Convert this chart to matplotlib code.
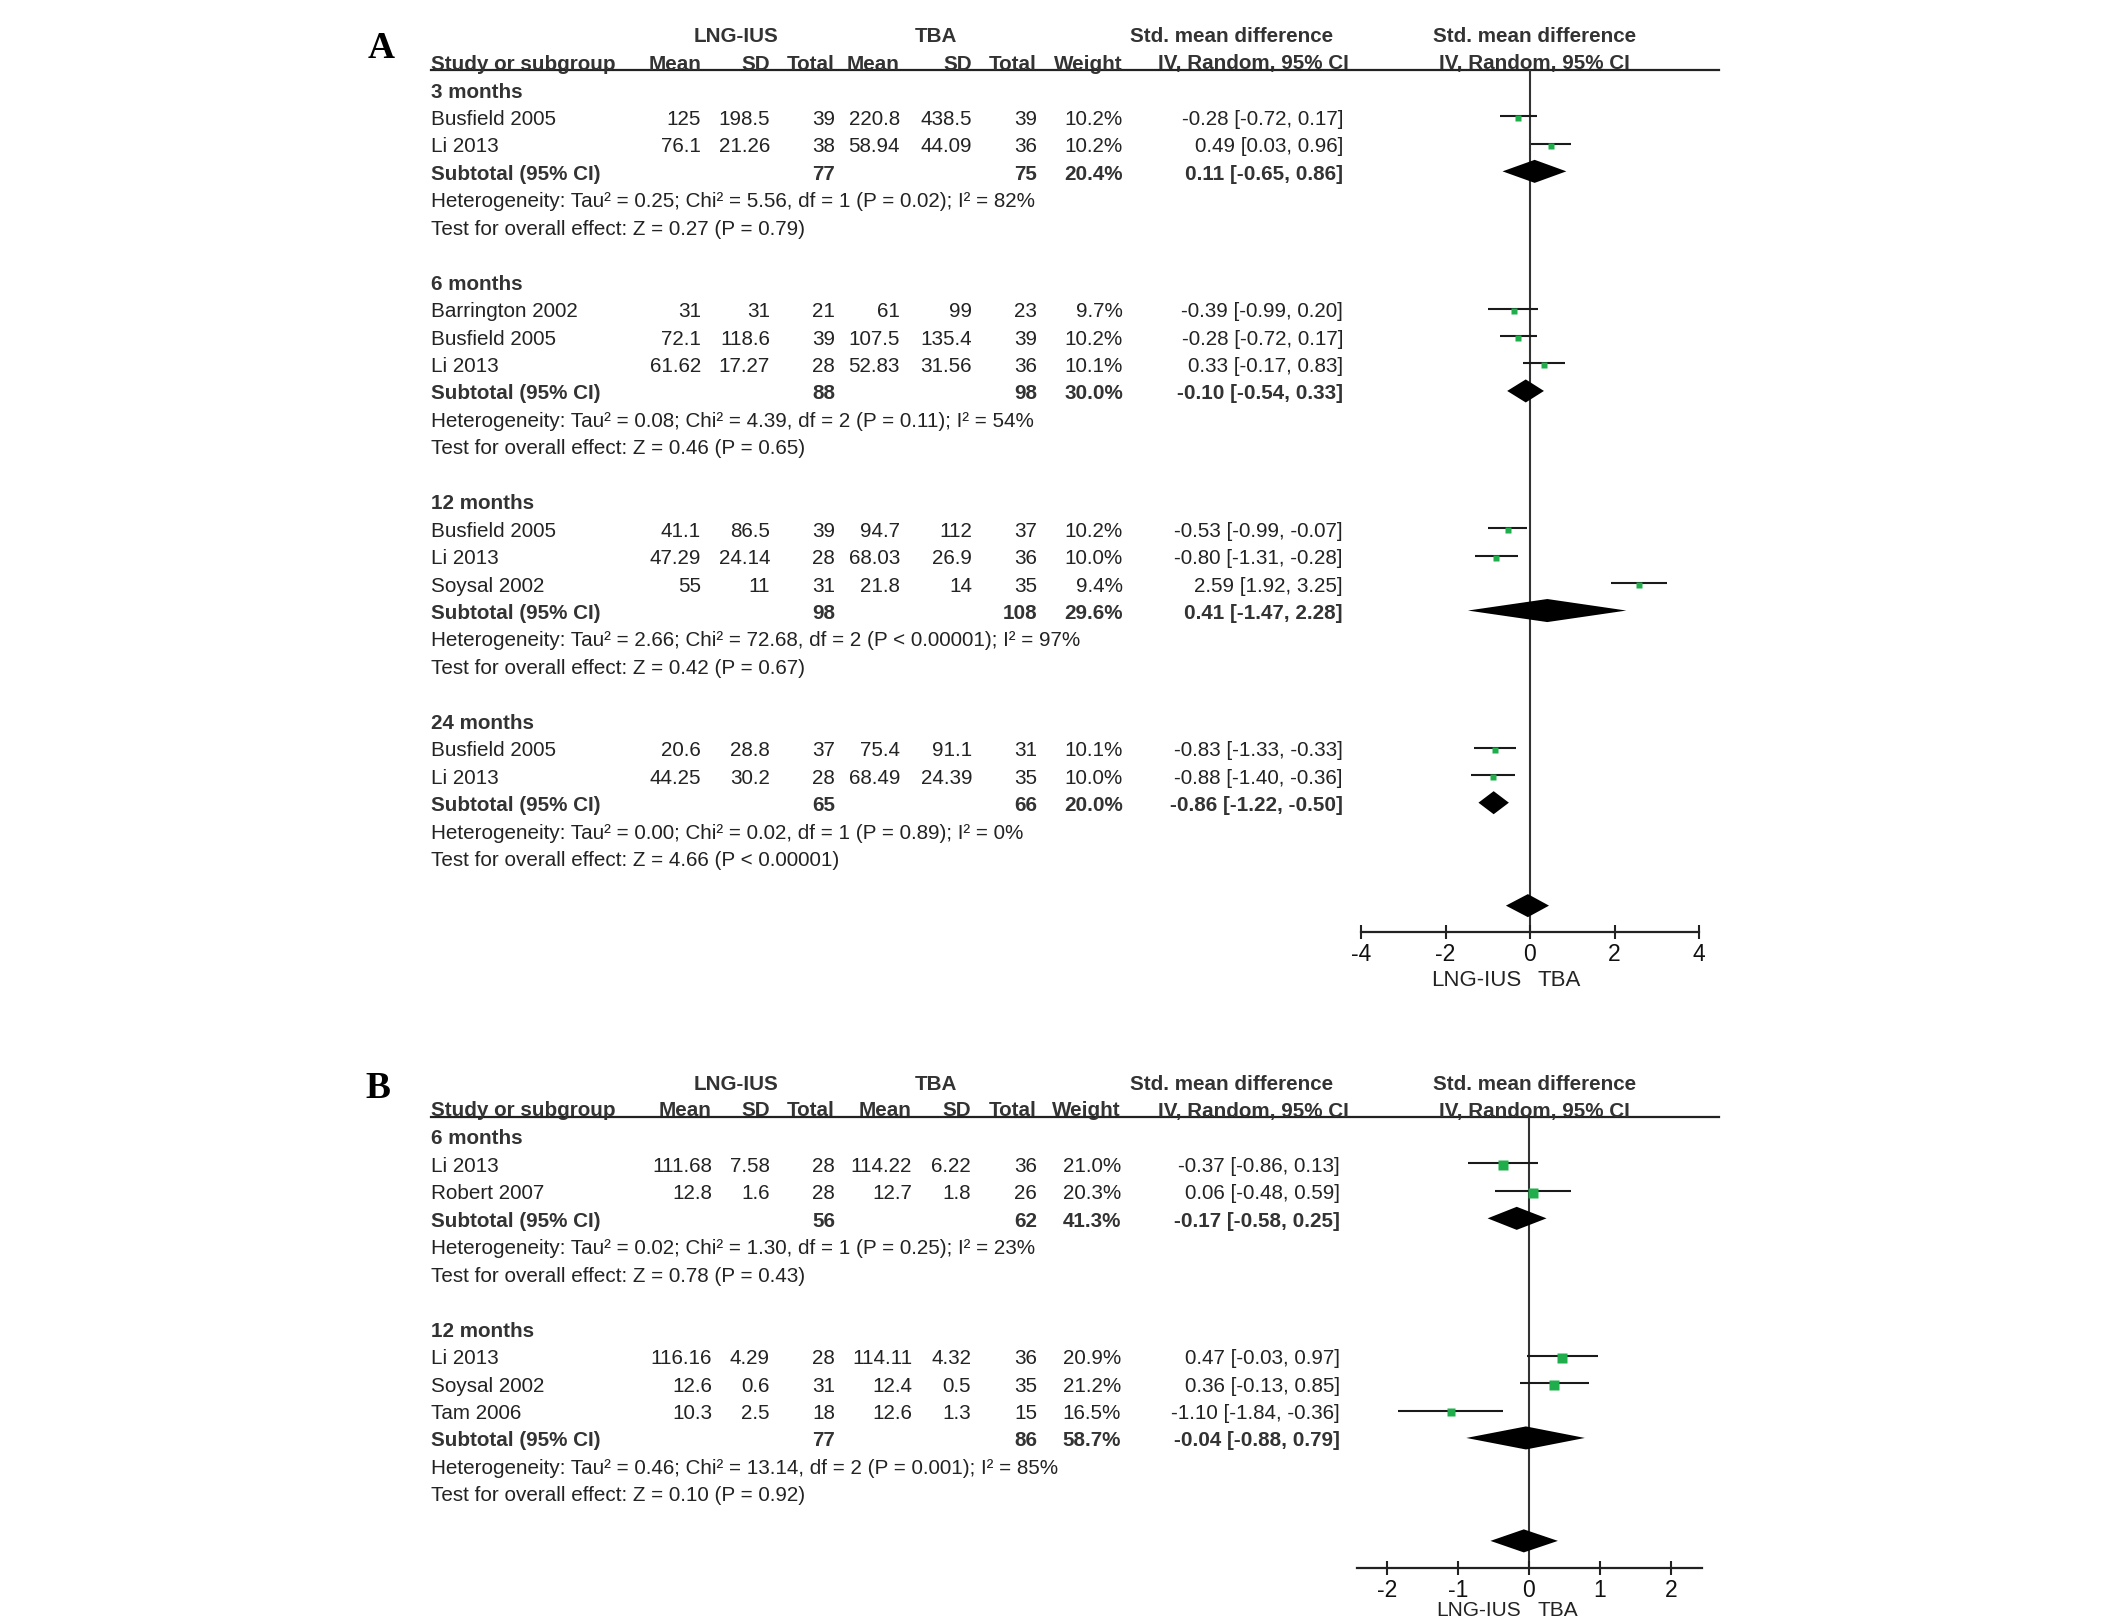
import matplotlib
matplotlib.use('Agg')
import matplotlib.pyplot as plt

plt.rcParams['font.family'] = ['Liberation Sans', 'DejaVu Sans']
plt.rcParams['axes.unicode_minus'] = False

W, H = 2126, 1621
TXT = '#232323'
BOLD = '#333333'
GREEN = '#1fae4b'
STEP = 27.45
FS = 14.9
DY = 3  # small downward nudge of table text

# ---- panel A ----
a_groups = ['3 months', '6 months', '12 months', '24 months']
a_sizes = [2, 3, 3, 2]
a_study = ['Busfield 2005', 'Li 2013',
           'Barrington 2002', 'Busfield 2005', 'Li 2013',
           'Busfield 2005', 'Li 2013', 'Soysal 2002',
           'Busfield 2005', 'Li 2013']
a_mean1 = [125, 76.1, 31, 72.1, 61.62, 41.1, 47.29, 55, 20.6, 44.25]
a_sd1 = [198.5, 21.26, 31, 118.6, 17.27, 86.5, 24.14, 11, 28.8, 30.2]
a_n1 = [39, 38, 21, 39, 28, 39, 28, 31, 37, 28]
a_mean2 = [220.8, 58.94, 61, 107.5, 52.83, 94.7, 68.03, 21.8, 75.4, 68.49]
a_sd2 = [438.5, 44.09, 99, 135.4, 31.56, 112, 26.9, 14, 91.1, 24.39]
a_n2 = [39, 36, 23, 39, 36, 37, 36, 35, 31, 35]
a_weight = [10.2, 10.2, 9.7, 10.2, 10.1, 10.2, 10.0, 9.4, 10.1, 10.0]
a_smd = [-0.28, 0.49, -0.39, -0.28, 0.33, -0.53, -0.80, 2.59, -0.83, -0.88]
a_lo = [-0.72, 0.03, -0.99, -0.72, -0.17, -0.99, -1.31, 1.92, -1.33, -1.40]
a_hi = [0.17, 0.96, 0.20, 0.17, 0.83, -0.07, -0.28, 3.25, -0.33, -0.36]
a_sub_n1 = [77, 88, 98, 65]
a_sub_n2 = [75, 98, 108, 66]
a_sub_w = [20.4, 30.0, 29.6, 20.0]
a_sub_smd = [0.11, -0.10, 0.41, -0.86]
a_sub_lo = [-0.65, -0.54, -1.47, -1.22]
a_sub_hi = [0.86, 0.33, 2.28, -0.50]
a_het = ['Heterogeneity: Tau² = 0.25; Chi² = 5.56, df = 1 (P = 0.02); I² = 82%',
         'Heterogeneity: Tau² = 0.08; Chi² = 4.39, df = 2 (P = 0.11); I² = 54%',
         'Heterogeneity: Tau² = 2.66; Chi² = 72.68, df = 2 (P < 0.00001); I² = 97%',
         'Heterogeneity: Tau² = 0.00; Chi² = 0.02, df = 1 (P = 0.89); I² = 0%']
a_test = ['Test for overall effect: Z = 0.27 (P = 0.79)',
          'Test for overall effect: Z = 0.46 (P = 0.65)',
          'Test for overall effect: Z = 0.42 (P = 0.67)',
          'Test for overall effect: Z = 4.66 (P < 0.00001)']
a_overall = [-0.05, -0.57, 0.45]
a_ticks = [-4, -2, 0, 2, 4]

# ---- panel B ----
b_groups = ['6 months', '12 months']
b_sizes = [2, 3]
b_study = ['Li 2013', 'Robert 2007', 'Li 2013', 'Soysal 2002', 'Tam 2006']
b_mean1 = [111.68, 12.8, 116.16, 12.6, 10.3]
b_sd1 = [7.58, 1.6, 4.29, 0.6, 2.5]
b_n1 = [28, 28, 28, 31, 18]
b_mean2 = [114.22, 12.7, 114.11, 12.4, 12.6]
b_sd2 = [6.22, 1.8, 4.32, 0.5, 1.3]
b_n2 = [36, 26, 36, 35, 15]
b_weight = [21.0, 20.3, 20.9, 21.2, 16.5]
b_smd = [-0.37, 0.06, 0.47, 0.36, -1.10]
b_lo = [-0.86, -0.48, -0.03, -0.13, -1.84]
b_hi = [0.13, 0.59, 0.97, 0.85, -0.36]
b_sub_n1 = [56, 77]
b_sub_n2 = [62, 86]
b_sub_w = [41.3, 58.7]
b_sub_smd = [-0.17, -0.04]
b_sub_lo = [-0.58, -0.88]
b_sub_hi = [0.25, 0.79]
b_het = ['Heterogeneity: Tau² = 0.02; Chi² = 1.30, df = 1 (P = 0.25); I² = 23%',
         'Heterogeneity: Tau² = 0.46; Chi² = 13.14, df = 2 (P = 0.001); I² = 85%']
b_test = ['Test for overall effect: Z = 0.78 (P = 0.43)',
          'Test for overall effect: Z = 0.10 (P = 0.92)']
b_overall = [-0.07, -0.54, 0.41]
b_ticks = [-2, -1, 0, 1, 2]

fig = plt.figure(figsize=(W / 100, H / 100), dpi=100)
bg = fig.add_axes([0, 0, 1, 1])
bg.set_xlim(0, W)
bg.set_ylim(H, 0)
bg.axis('off')


def t(x, y, s, ha='left', bold=False, size=FS):
    bg.text(x, y + DY, s, ha=ha, va='center', fontsize=size,
            fontweight='bold' if bold else 'normal',
            color=BOLD if bold else TXT)


def draw_panel(p):
    y0 = p['y0']
    c = p['cols']
    py = lambda r: y0 + r * STEP

    # letter + headers
    bg.text(p['letter_x'], p['letter_y'], p['letter'], ha='center', va='center',
            fontsize=27, fontweight='bold', family='Liberation Serif', color='black')
    t(736, y0 - 55, 'LNG-IUS', 'center', True)
    t(936, y0 - 55, 'TBA', 'center', True)
    t(1232, y0 - 55, 'Std. mean difference', 'center', True)
    t(1535, y0 - 55, 'Std. mean difference', 'center', True)
    t(431, y0 - 28, 'Study or subgroup', 'left', True)
    for x, s in zip(c[:7], ['Mean', 'SD', 'Total', 'Mean', 'SD', 'Total', 'Weight']):
        t(x, y0 - 28, s, 'right', True)
    t(1349, y0 - 28, 'IV, Random, 95% CI', 'right', True)
    t(1534, y0 - 28, 'IV, Random, 95% CI', 'center', True)
    bg.plot([431, 1719], [y0 - 19, y0 - 19], color='#222222', lw=1.6)

    # rows
    rows, sub_rows = [], []
    r = 0
    i = 0
    for g, k in enumerate(p['sizes']):
        t(431, py(r), p['groups'][g], bold=True)
        for j in range(k):
            rr = r + 1 + j
            rows.append(rr)
            t(431, py(rr), p['study'][i])
            vals = [f"{p['mean1'][i]:g}", f"{p['sd1'][i]:g}", str(p['n1'][i]),
                    f"{p['mean2'][i]:g}", f"{p['sd2'][i]:g}", str(p['n2'][i]),
                    f"{p['weight'][i]:.1f}%",
                    f"{p['smd'][i]:.2f} [{p['lo'][i]:.2f}, {p['hi'][i]:.2f}]"]
            for x, s in zip(c, vals):
                t(x, py(rr), s, 'right')
            i += 1
        rs = r + k + 1
        sub_rows.append(rs)
        t(431, py(rs), 'Subtotal (95% CI)', bold=True)
        t(c[2], py(rs), str(p['sub_n1'][g]), 'right', True)
        t(c[5], py(rs), str(p['sub_n2'][g]), 'right', True)
        t(c[6], py(rs), f"{p['sub_w'][g]:.1f}%", 'right', True)
        t(c[7], py(rs), f"{p['sub_smd'][g]:.2f} [{p['sub_lo'][g]:.2f}, {p['sub_hi'][g]:.2f}]",
          'right', True)
        t(431, py(rs + 1), p['het'][g])
        t(431, py(rs + 2), p['test'][g])
        r += k + 5
    last_test = r - 2
    diamond_row = last_test + 1.75
    axis_row = last_test + 2.72
    top_row = -19 / STEP

    # forest axes
    xl, xr = p['xpx']
    ax = fig.add_axes([xl / W, 1 - py(axis_row) / H, (xr - xl) / W,
                       (py(axis_row) - py(top_row)) / H])
    ax.set_facecolor('none')
    ax.set_xlim(p['xlim'])
    ax.set_ylim(axis_row, top_row)
    for s in ['top', 'left', 'right']:
        ax.spines[s].set_visible(False)
    ax.spines['bottom'].set_color('#222222')
    ax.spines['bottom'].set_linewidth(1.6)
    ax.set_yticks([])
    ax.set_xticks(p['ticks'])
    ax.set_xticklabels([str(v) for v in p['ticks']])
    ax.tick_params(axis='x', direction='inout', length=10, width=1.5,
                   labelsize=16.5, labelcolor='#111111', color='#222222', pad=3)
    ax.axvline(0, color='#333333', lw=1.5, zorder=1)

    wmax = max(p['weight'])
    for k, rr in enumerate(rows):
        ax.hlines(rr, p['lo'][k], p['hi'][k], color='#1a1a1a', lw=1.5, zorder=2)
        side = p['box'] * (p['weight'][k] / wmax) ** 0.5
        ax.plot(p['smd'][k], rr + 0.07, marker='s', ms=side * 0.72, color=GREEN,
                mec='none', zorder=3)
    h = 0.42
    for g, rs in enumerate(sub_rows):
        ax.fill([p['sub_lo'][g], p['sub_smd'][g], p['sub_hi'][g], p['sub_smd'][g]],
                [rs, rs - h, rs, rs + h], color='black', lw=0, zorder=3)
    est, lo, hi = p['overall']
    ax.fill([lo, est, hi, est], [diamond_row, diamond_row - h, diamond_row, diamond_row + h],
            color='black', lw=0, zorder=3)

    # footer
    fy = py(axis_row) + p['foot_dy']
    t(1521, fy, 'LNG-IUS', 'right', size=p['foot_fs'])
    t(1538, fy, 'TBA', 'left', size=p['foot_fs'])


panel_a = dict(letter='A', letter_x=381, letter_y=49, y0=89,
               cols=[701, 770, 835, 900, 972, 1037, 1123, 1343],
               groups=a_groups, sizes=a_sizes, study=a_study, mean1=a_mean1, sd1=a_sd1, n1=a_n1,
               mean2=a_mean2, sd2=a_sd2, n2=a_n2, weight=a_weight, smd=a_smd, lo=a_lo, hi=a_hi,
               sub_n1=a_sub_n1, sub_n2=a_sub_n2, sub_w=a_sub_w, sub_smd=a_sub_smd,
               sub_lo=a_sub_lo, sub_hi=a_sub_hi, het=a_het, test=a_test, overall=a_overall,
               ticks=a_ticks, xlim=(-4, 4), xpx=(1361, 1699), box=5.5, foot_dy=45, foot_fs=16)
panel_b = dict(letter='B', letter_x=378, letter_y=1088, y0=1136,
               cols=[712, 770, 835, 912, 971, 1037, 1121, 1340],
               groups=b_groups, sizes=b_sizes, study=b_study, mean1=b_mean1, sd1=b_sd1, n1=b_n1,
               mean2=b_mean2, sd2=b_sd2, n2=b_n2, weight=b_weight, smd=b_smd, lo=b_lo, hi=b_hi,
               sub_n1=b_sub_n1, sub_n2=b_sub_n2, sub_w=b_sub_w, sub_smd=b_sub_smd,
               sub_lo=b_sub_lo, sub_hi=b_sub_hi, het=b_het, test=b_test, overall=b_overall,
               ticks=b_ticks, xlim=(-2.42, 2.44), xpx=(1357, 1702), box=9.3, foot_dy=40, foot_fs=15)

draw_panel(panel_a)
draw_panel(panel_b)

fig.savefig('out.png', dpi=100)
